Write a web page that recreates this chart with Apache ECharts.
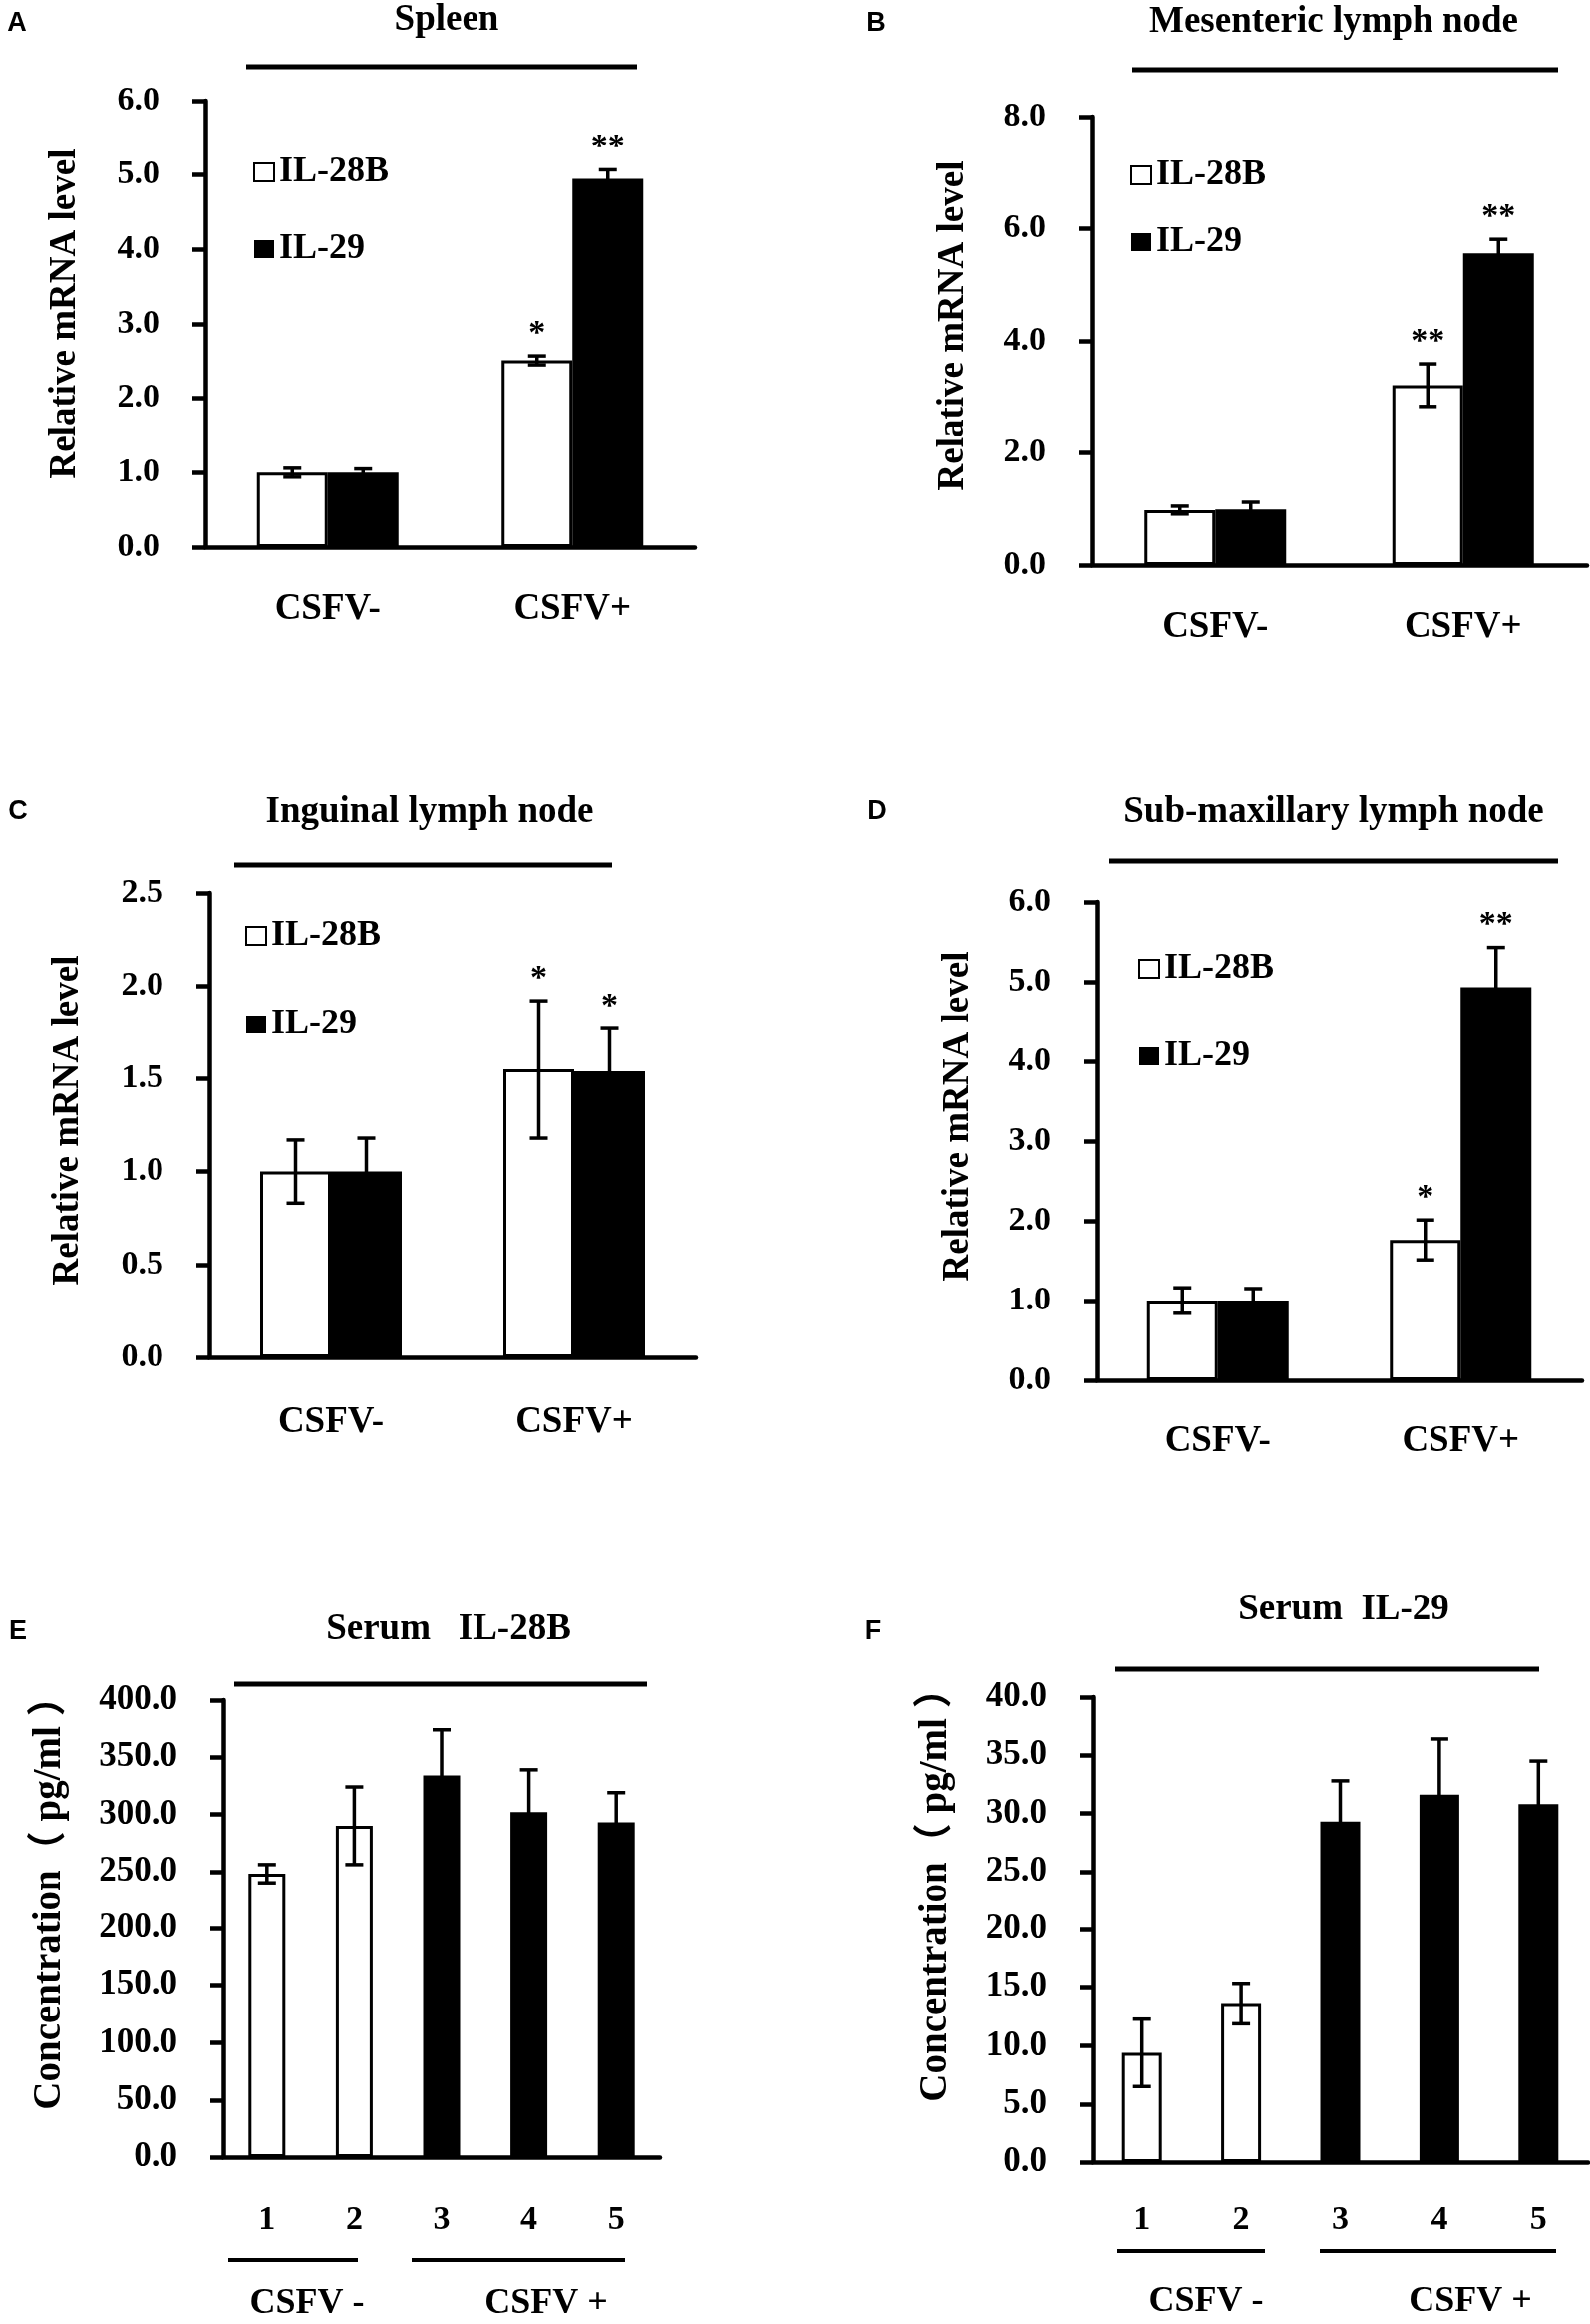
<!DOCTYPE html>
<html>
<head>
<meta charset="utf-8">
<script src="https://cdn.jsdelivr.net/npm/echarts@6/dist/echarts.min.js"></script>
<style>
  html, body { margin: 0; padding: 0; background: #fff; }
  #chart { width: 1595px; height: 2332px; }
</style>
</head>
<body>
<div id="chart"></div>
<script>
// ---- data ----
var groups = ['CSFV-', 'CSFV+'];
var serumSamples = ['1', '2', '3', '4', '5'];
var serumGroup = ['CSFV -', 'CSFV -', 'CSFV +', 'CSFV +', 'CSFV +'];

// A spleen
var spleen28b = [1.00, 2.51], spleen28bErr = [0.06, 0.06], spleen28bSig = ['', '*'];
var spleen29 = [1.00, 4.95], spleen29Err = [0.05, 0.12], spleen29Sig = ['', '**'];
// B mesenteric lymph node
var mes28b = [0.98, 3.21], mes28bErr = [0.07, 0.38], mes28bSig = ['', '**'];
var mes29 = [0.99, 5.56], mes29Err = [0.13, 0.25], mes29Sig = ['', '**'];
// C inguinal lymph node
var ing28b = [1.00, 1.55], ing28bErr = [0.17, 0.37], ing28bSig = ['', '*'];
var ing29 = [1.00, 1.54], ing29Err = [0.18, 0.23], ing29Sig = ['', '*'];
// D sub-maxillary lymph node
var sub28b = [1.00, 1.76], sub28bErr = [0.16, 0.25], sub28bSig = ['', '*'];
var sub29 = [1.00, 4.93], sub29Err = [0.15, 0.50], sub29Sig = ['', '**'];
// E / F serum (pg/ml)
var serum28b = [248, 290, 334, 302, 293], serum28bErr = [8, 34, 40, 37, 26];
var serum29 = [9.4, 13.6, 29.3, 31.6, 30.8], serum29Err = [2.9, 1.7, 3.5, 4.8, 3.7];

var SERIF = '"Liberation Serif", "Times New Roman", "Noto Sans CJK SC", serif';
var SANS = '"Liberation Sans", Arial, sans-serif';

// panel layout (pixels)
var panels = [
  { letter: 'A', lx: 17, ly: 24, title: 'Spleen', tx: 448, ty: 20, line: [247, 639, 67],
    grid: [206, 101, 491, 448], max: 6, step: 1, cats: groups, name: 'Relative mRNA level', nameGap: 122, shift: 20,
    xMargin: 44, legend: [254, 155, 41],
    bars: [[spleen28b, spleen28bErr, spleen28bSig], [spleen29, spleen29Err, spleen29Sig]] },
  { letter: 'B', lx: 879, ly: 24, title: 'Mesenteric lymph node', tx: 1338, ty: 22, line: [1136, 1563, 70],
    grid: [1095, 117, 497, 450], max: 8, step: 2, cats: groups, name: 'Relative mRNA level', nameGap: 120, shift: 30,
    xMargin: 44, legend: [1134, 158, 31],
    bars: [[mes28b, mes28bErr, mes28bSig], [mes29, mes29Err, mes29Sig]] },
  { letter: 'C', lx: 18, ly: 815, title: 'Inguinal lymph node', tx: 431, ty: 815, line: [235, 614, 868],
    grid: [210, 896, 488, 466], max: 2.5, step: 0.5, cats: groups, name: 'Relative mRNA level', nameGap: 123, shift: 10,
    xMargin: 47, legend: [246, 921, 53],
    bars: [[ing28b, ing28bErr, ing28bSig], [ing29, ing29Err, ing29Sig]] },
  { letter: 'D', lx: 880, ly: 815, title: 'Sub-maxillary lymph node', tx: 1338, ty: 815, line: [1112, 1563, 864],
    grid: [1100, 905, 487, 480], max: 6, step: 1, cats: groups, name: 'Relative mRNA level', nameGap: 120, shift: 50,
    xMargin: 43, legend: [1142, 954, 52],
    bars: [[sub28b, sub28bErr, sub28bSig], [sub29, sub29Err, sub29Sig]] },
  { letter: 'E', lx: 18, ly: 1638, title: 'Serum   IL-28B', tx: 450, ty: 1635, line: [235, 649, 1690],
    grid: [224, 1706, 438, 458], max: 400, step: 50, cats: serumSamples, name: 'Concentration（ pg/ml ）', nameGap: 155, shift: 70,
    xMargin: 47, serum: [serum28b, serum28bErr], barW: 37,
    under: [[229, 359, 2268], [413, 627, 2268]], underText: [308, 548, 2312] },
  { letter: 'F', lx: 876, ly: 1638, title: 'Serum  IL-29', tx: 1348, ty: 1615, line: [1119, 1544, 1675],
    grid: [1096, 1703, 497, 466], max: 40, step: 5, cats: serumSamples, name: 'Concentration（ pg/ml ）', nameGap: 138, shift: 88,
    xMargin: 42, serum: [serum29, serum29Err], barW: 40,
    under: [[1121, 1269, 2259], [1324, 1561, 2259]], underText: [1210, 1475, 2310] }
];

var whiteStyle = { color: '#fff', borderColor: '#000', borderWidth: 3 };
var blackStyle = { color: '#000', borderColor: '#000', borderWidth: 0 };

function errorSeries(ax, vals, errs, sig, offset) {
  return {
    type: 'custom', xAxisIndex: ax, yAxisIndex: ax, z: 5, silent: true,
    data: vals.map(function (v, i) { return [i, v, errs[i]]; }),
    renderItem: function (params, api) {
      var c = api.value(0), v = api.value(1), e = api.value(2);
      var hi = api.coord([c, v + e]), lo = api.coord([c, v - e]);
      var x = hi[0] + offset;
      var st = { stroke: '#000', lineWidth: 3.5 };
      var kids = [
        { type: 'line', shape: { x1: x, y1: hi[1], x2: x, y2: lo[1] }, style: st },
        { type: 'line', shape: { x1: x - 9, y1: hi[1], x2: x + 9, y2: hi[1] }, style: st },
        { type: 'line', shape: { x1: x - 9, y1: lo[1], x2: x + 9, y2: lo[1] }, style: st }
      ];
      var s = sig && sig[params.dataIndex];
      if (s) {
        kids.push({ type: 'text', x: x, y: hi[1] - 22,
          style: { text: s, fill: '#000', font: 'bold 34px ' + SERIF, align: 'center', verticalAlign: 'middle' } });
      }
      return { type: 'group', children: kids };
    }
  };
}

var grids = [], xAxes = [], yAxes = [], series = [], legends = [], graphics = [];

panels.forEach(function (p, i) {
  grids.push({ left: p.grid[0], top: p.grid[1], width: p.grid[2], height: p.grid[3] });
  xAxes.push({
    gridIndex: i, type: 'category', data: p.cats,
    axisLine: { lineStyle: { color: '#000', width: 4.5 } },
    axisTick: { length: 11, lineStyle: { color: '#000', width: 4.5 } },
    axisLabel: { margin: p.xMargin, color: '#000', fontFamily: SERIF, fontWeight: 'bold', fontSize: p.serum ? 34 : 37 }
  });
  yAxes.push({
    gridIndex: i, type: 'value', min: 0, max: p.max, interval: p.step,
    axisLine: { show: true, lineStyle: { color: '#000', width: 4.5 } },
    axisTick: { show: true, length: 13, lineStyle: { color: '#000', width: 4.5 } },
    splitLine: { show: false },
    axisLabel: { margin: 46, color: '#000', fontFamily: SERIF, fontWeight: 'bold', fontSize: p.serum ? 35 : 34,
      formatter: function (v) { return v.toFixed(1); } },
    name: p.name, nameLocation: 'middle', nameGap: p.nameGap,
    nameTextStyle: { color: '#000', fontFamily: SERIF, fontWeight: 'bold', fontSize: p.serum ? 39 : 37, padding: [0, 0, 0, p.shift] }
  });

  if (p.bars) {
    var names = ['IL-28B', 'IL-29'];
    p.bars.forEach(function (b, k) {
      series.push({
        type: 'bar', name: names[k], xAxisIndex: i, yAxisIndex: i, barWidth: 71, barGap: '0%',
        itemStyle: k === 0 ? whiteStyle : blackStyle, silent: true, data: b[0]
      });
      series.push(errorSeries(i, b[0], b[1], b[2], k === 0 ? -35.5 : 35.5));
    });
    legends.push({
      left: p.legend[0], top: p.legend[1], orient: 'vertical', padding: 0, itemGap: p.legend[2],
      itemWidth: 20, itemHeight: 18, itemTextGap: 6, icon: 'rect', selectedMode: false, data: names,
      textStyle: { color: '#000', fontFamily: SERIF, fontWeight: 'bold', fontSize: 36, lineHeight: 36 }
    });
  } else {
    series.push({
      type: 'bar', xAxisIndex: i, yAxisIndex: i, barWidth: p.barW, silent: true,
      data: p.serum[0].map(function (v, k) {
        return { value: v, itemStyle: serumGroup[k] === 'CSFV -' ? whiteStyle : blackStyle };
      })
    });
    series.push(errorSeries(i, p.serum[0], p.serum[1], null, 0));
    p.under.forEach(function (u) {
      graphics.push({ type: 'line', shape: { x1: u[0], y1: u[2], x2: u[1], y2: u[2] }, style: { stroke: '#000', lineWidth: 4 } });
    });
    graphics.push({ type: 'text', x: p.underText[0], y: p.underText[2],
      style: { text: serumGroup[0], fill: '#000', font: 'bold 36px ' + SERIF, align: 'center', verticalAlign: 'middle' } });
    graphics.push({ type: 'text', x: p.underText[1], y: p.underText[2],
      style: { text: serumGroup[4], fill: '#000', font: 'bold 36px ' + SERIF, align: 'center', verticalAlign: 'middle' } });
  }

  graphics.push({ type: 'text', x: p.lx, y: p.ly,
    style: { text: p.letter, fill: '#000', font: 'bold 27px ' + SANS, align: 'center', verticalAlign: 'middle' } });
  graphics.push({ type: 'text', x: p.tx, y: p.ty,
    style: { text: p.title, fill: '#000', font: 'bold 37px ' + SERIF, align: 'center', verticalAlign: 'middle' } });
  graphics.push({ type: 'line', shape: { x1: p.line[0], y1: p.line[2], x2: p.line[1], y2: p.line[2] },
    style: { stroke: '#000', lineWidth: 5 } });
});

var myChart = echarts.init(document.getElementById('chart'));
myChart.setOption({
  backgroundColor: '#fff',
  animation: false,
  grid: grids,
  xAxis: xAxes,
  yAxis: yAxes,
  legend: legends,
  series: series,
  graphic: graphics
});
</script>
</body>
</html>
